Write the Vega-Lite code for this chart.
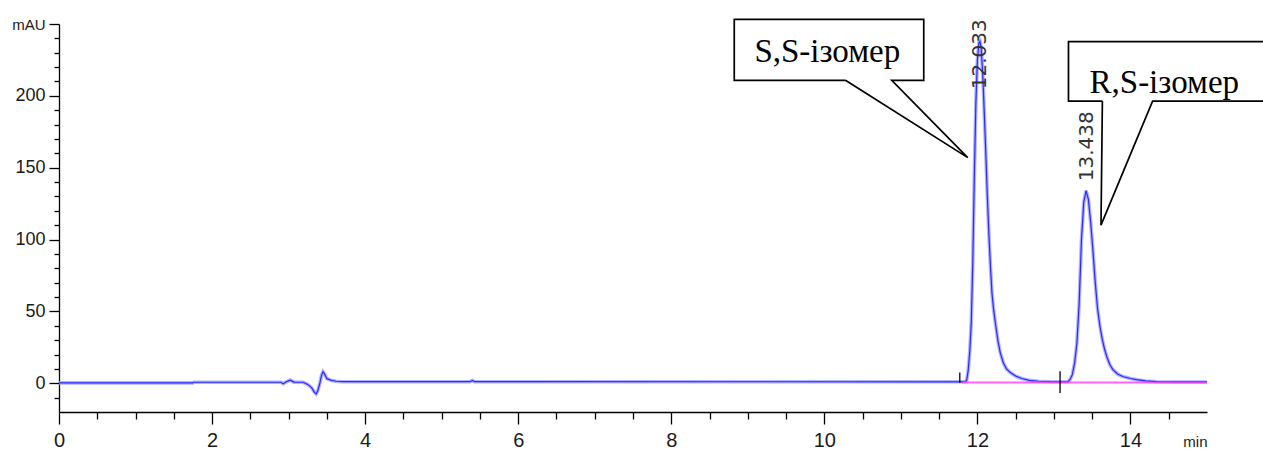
{
  "$schema": "https://vega.github.io/schema/vega-lite/v6.json",
  "width": 1148,
  "height": 388,
  "autosize": {"type": "none"},
  "padding": {"left": 59, "top": 24, "right": 56, "bottom": 39},
  "background": "white",
  "config": {
    "view": {"stroke": null},
    "axis": {"grid": false, "domainColor": "black", "tickColor": "black", "domainWidth": 1.3, "tickWidth": 1.3, "labelFont": "Liberation Sans", "labelColor": "#1a1a1a", "title": null}
  },
  "datasets": {
    "curve": [
      {"t": 0.0, "v": 0.3}, {"t": 1.75, "v": 0.3}, {"t": 1.76, "v": 0.7}, {"t": 2.9, "v": 0.7},
      {"t": 2.93, "v": -0.3}, {"t": 2.97, "v": 1.0}, {"t": 3.02, "v": 2.2}, {"t": 3.07, "v": 0.8},
      {"t": 3.19, "v": 0.7}, {"t": 3.25, "v": -0.8}, {"t": 3.30, "v": -3.0}, {"t": 3.34, "v": -6.5},
      {"t": 3.36, "v": -7.4}, {"t": 3.38, "v": -5.5}, {"t": 3.41, "v": 0.4}, {"t": 3.43, "v": 5.5},
      {"t": 3.45, "v": 8.0}, {"t": 3.47, "v": 6.5}, {"t": 3.50, "v": 3.2}, {"t": 3.56, "v": 2.0},
      {"t": 3.62, "v": 1.4}, {"t": 3.70, "v": 1.1}, {"t": 5.37, "v": 1.1}, {"t": 5.40, "v": 1.9},
      {"t": 5.43, "v": 1.1}, {"t": 11.80, "v": 1.0}, {"t": 11.84, "v": 1.2}, {"t": 11.86, "v": 2.0},
      {"t": 11.88, "v": 9}, {"t": 11.90, "v": 22}, {"t": 11.92, "v": 42}, {"t": 11.94, "v": 85},
      {"t": 11.96, "v": 145}, {"t": 11.98, "v": 195}, {"t": 12.00, "v": 225}, {"t": 12.02, "v": 237},
      {"t": 12.033, "v": 238}, {"t": 12.05, "v": 233}, {"t": 12.07, "v": 215}, {"t": 12.09, "v": 188},
      {"t": 12.11, "v": 160}, {"t": 12.13, "v": 130}, {"t": 12.15, "v": 104}, {"t": 12.17, "v": 82},
      {"t": 12.19, "v": 63}, {"t": 12.21, "v": 52}, {"t": 12.24, "v": 40}, {"t": 12.27, "v": 29},
      {"t": 12.30, "v": 21}, {"t": 12.34, "v": 14}, {"t": 12.38, "v": 10}, {"t": 12.43, "v": 7.5},
      {"t": 12.50, "v": 5}, {"t": 12.58, "v": 3.3}, {"t": 12.68, "v": 2.0}, {"t": 12.80, "v": 1.4},
      {"t": 12.95, "v": 1.1}, {"t": 13.10, "v": 1.0}, {"t": 13.18, "v": 1.1}, {"t": 13.21, "v": 2.5},
      {"t": 13.24, "v": 6}, {"t": 13.27, "v": 14}, {"t": 13.30, "v": 28}, {"t": 13.33, "v": 56},
      {"t": 13.36, "v": 100}, {"t": 13.39, "v": 126}, {"t": 13.42, "v": 134}, {"t": 13.45, "v": 128},
      {"t": 13.48, "v": 112}, {"t": 13.51, "v": 92}, {"t": 13.54, "v": 70}, {"t": 13.57, "v": 52},
      {"t": 13.60, "v": 40}, {"t": 13.63, "v": 31}, {"t": 13.66, "v": 24}, {"t": 13.69, "v": 18.5},
      {"t": 13.73, "v": 13}, {"t": 13.77, "v": 9.5}, {"t": 13.83, "v": 6.5}, {"t": 13.90, "v": 4.7},
      {"t": 14.00, "v": 3.3}, {"t": 14.08, "v": 2.5}, {"t": 14.20, "v": 1.6}, {"t": 14.34, "v": 1.1},
      {"t": 14.60, "v": 0.9}, {"t": 15.00, "v": 0.9}
    ],
    "baseline": [
      {"seg": "a", "t": 11.80, "v": 0.5}, {"seg": "a", "t": 13.08, "v": 0.5},
      {"seg": "b", "t": 13.08, "v": 0.5}, {"seg": "b", "t": 15.0, "v": 0.5}
    ],
    "marks": [
      {"t": 11.77, "v1": 0.3, "v2": 7.5},
      {"t": 13.08, "v1": -6.8, "v2": 8.3}
    ],
    "callouts": [
      {"shape": "S,S", "i": 0, "t": 10.276, "v": 210.8},
      {"shape": "S,S", "i": 1, "t": 8.823, "v": 210.8},
      {"shape": "S,S", "i": 2, "t": 8.823, "v": 253.2},
      {"shape": "S,S", "i": 3, "t": 11.299, "v": 253.2},
      {"shape": "S,S", "i": 4, "t": 11.299, "v": 210.8},
      {"shape": "S,S", "i": 5, "t": 10.881, "v": 210.8},
      {"shape": "S,S", "i": 6, "t": 11.874, "v": 157},
      {"shape": "S,S", "i": 7, "t": 10.276, "v": 210.8},
      {"shape": "R,S", "i": 0, "t": 13.633, "v": 196.3},
      {"shape": "R,S", "i": 1, "t": 13.19, "v": 196.3},
      {"shape": "R,S", "i": 2, "t": 13.19, "v": 237.7},
      {"shape": "R,S", "i": 3, "t": 16.0, "v": 237.7},
      {"shape": "R,S", "i": 4, "t": 16.0, "v": 196.3},
      {"shape": "R,S", "i": 5, "t": 14.289, "v": 196.3},
      {"shape": "R,S", "i": 6, "t": 13.615, "v": 110},
      {"shape": "R,S", "i": 7, "t": 13.633, "v": 196.3}
    ],
    "boxtext": [
      {"t": 9.086, "v": 223.5, "label": "S,S-ізомер"},
      {"t": 13.465, "v": 201.9, "label": "R,S-ізомер"}
    ],
    "peaklabels": [
      {"t": 12.033, "v": 204.6, "label": "12.033"},
      {"t": 13.438, "v": 140.6, "label": "13.438"}
    ]
  },
  "resolve": {"axis": {"x": "independent", "y": "independent"}},
  "layer": [
    {
      "data": {"name": "curve"},
      "mark": {"type": "line", "stroke": "#a4a4ff", "strokeWidth": 3.6, "opacity": 0.85},
      "encoding": {
        "x": {"field": "t", "type": "quantitative", "scale": {"domain": [0, 15], "nice": false, "zero": false},
          "axis": {"orient": "bottom", "values": [0.5,1,1.5,2.5,3,3.5,4.5,5,5.5,6.5,7,7.5,8.5,9,9.5,10.5,11,11.5,12.5,13,13.5,14.5], "labels": false, "domain": false, "tickSize": 7}},
        "y": {"field": "v", "type": "quantitative", "scale": {"domain": [-20, 250], "nice": false, "zero": false},
          "axis": {"orient": "left", "values": [-10,10,20,30,40,60,70,80,90,110,120,130,140,160,170,180,190,210,220,230,240], "labels": false, "domain": false, "tickSize": 5}}
      }
    },
    {
      "data": {"name": "curve"},
      "mark": {"type": "line", "stroke": "#2a2aff", "strokeWidth": 1.2},
      "encoding": {
        "x": {"field": "t", "type": "quantitative",
          "axis": {"orient": "bottom", "values": [0,2,4,6,8,10,12,14,15], "labelExpr": "datum.value == 15 ? 'min' : datum.label", "tickSize": 12, "labelBaseline": "alphabetic", "labelPadding": 22, "labelFontSize": {"condition": {"test": "datum.value == 15", "value": 15}, "value": 20}, "labelAlign": {"condition": {"test": "datum.value == 15", "value": "right"}, "value": "center"}, "tickOpacity": {"condition": {"test": "datum.value == 15", "value": 0}, "value": 1}, "labelFlush": false, "labelOverlap": false}},
        "y": {"field": "v", "type": "quantitative",
          "axis": {"orient": "left", "values": [0,50,100,150,200,250], "labelExpr": "datum.value == 250 ? 'mAU' : datum.label", "tickSize": 10, "labelPadding": 4, "labelFontSize": {"condition": {"test": "datum.value == 250", "value": 15}, "value": 18}, "labelFlush": false, "labelOverlap": false}}
      }
    },
    {
      "data": {"name": "baseline"},
      "mark": {"type": "line", "stroke": "#ff30ff", "strokeWidth": 2, "opacity": 0.75},
      "encoding": {
        "x": {"field": "t", "type": "quantitative", "axis": null},
        "y": {"field": "v", "type": "quantitative", "axis": null},
        "detail": {"field": "seg"}
      }
    },
    {
      "data": {"name": "marks"},
      "mark": {"type": "rule", "color": "black", "strokeWidth": 1.3},
      "encoding": {
        "x": {"field": "t", "type": "quantitative", "axis": null},
        "y": {"field": "v1", "type": "quantitative", "axis": null},
        "y2": {"field": "v2"}
      }
    },
    {
      "data": {"name": "callouts"},
      "mark": {"type": "line", "stroke": "black", "strokeWidth": 1.7, "strokeJoin": "miter"},
      "encoding": {
        "x": {"field": "t", "type": "quantitative", "axis": null},
        "y": {"field": "v", "type": "quantitative", "axis": null},
        "detail": {"field": "shape"},
        "order": {"field": "i", "type": "quantitative"}
      }
    },
    {
      "data": {"name": "boxtext"},
      "mark": {"type": "text", "font": "Liberation Serif", "fontSize": 33, "align": "left", "baseline": "alphabetic", "color": "black"},
      "encoding": {
        "x": {"field": "t", "type": "quantitative", "axis": null},
        "y": {"field": "v", "type": "quantitative", "axis": null},
        "text": {"field": "label"}
      }
    },
    {
      "data": {"name": "peaklabels"},
      "mark": {"type": "text", "font": "DejaVu Sans", "fontSize": 20, "angle": 270, "align": "left", "baseline": "middle", "color": "#333333"},
      "encoding": {
        "x": {"field": "t", "type": "quantitative", "axis": null},
        "y": {"field": "v", "type": "quantitative", "axis": null},
        "text": {"field": "label"}
      }
    }
  ]
}
